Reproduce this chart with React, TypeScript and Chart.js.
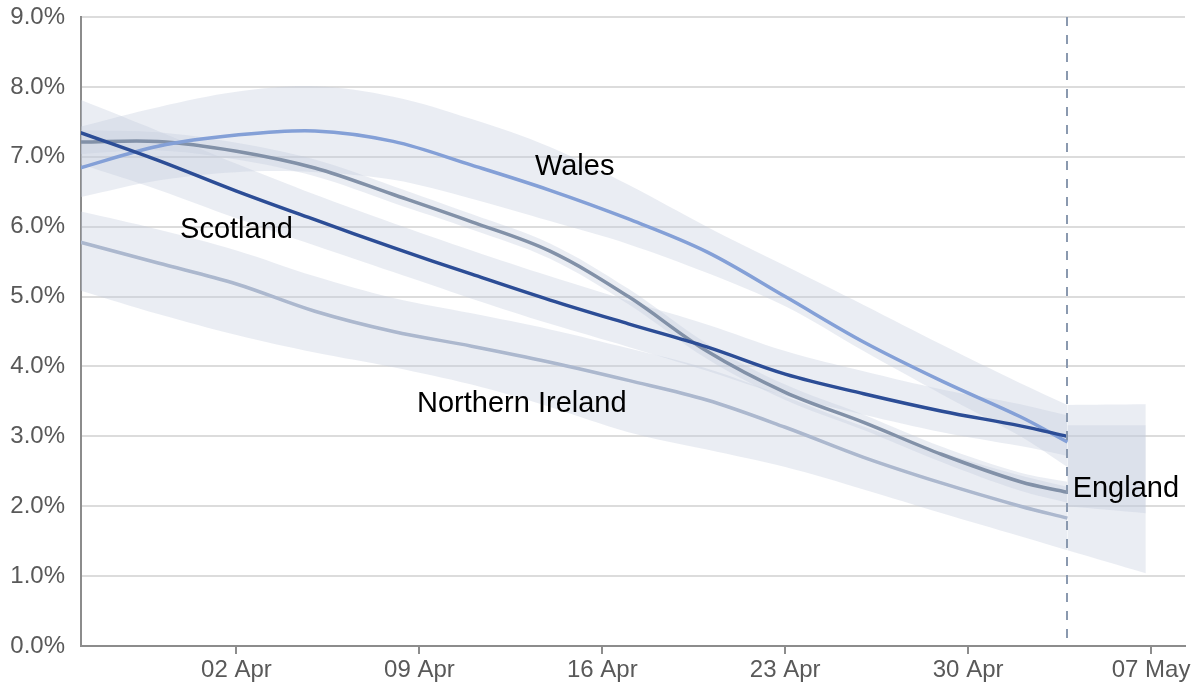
import React, { useEffect, useRef } from 'react';
import { Chart, registerables } from 'chart.js';

Chart.register(...registerables);

// Days relative to 02 Apr
const days = [-6, -3, 0, 3, 6, 9, 12, 15, 18, 21, 24, 27, 30, 31.8];

const scotland = [7.35, 6.95, 6.51, 6.1, 5.7, 5.32, 4.95, 4.61, 4.28, 3.89, 3.61, 3.36, 3.15, 3.0];
const scotlandUpper = [7.82, 7.37, 6.9, 6.46, 6.05, 5.66, 5.29, 4.94, 4.6, 4.22, 3.93, 3.67, 3.46, 3.3];
const scotlandLower = [6.9, 6.53, 6.12, 5.73, 5.35, 4.97, 4.61, 4.28, 3.94, 3.58, 3.31, 3.06, 2.86, 2.72];

const wales = [6.84, 7.15, 7.31, 7.37, 7.22, 6.88, 6.52, 6.11, 5.64, 5.0, 4.35, 3.79, 3.28, 2.92];
const walesUpper = [7.43, 7.71, 7.93, 8.01, 7.86, 7.54, 7.14, 6.6, 6.0, 5.44, 4.88, 4.31, 3.76, 3.45];
const walesLower = [6.42, 6.66, 6.78, 6.78, 6.67, 6.4, 6.08, 5.75, 5.34, 4.86, 4.22, 3.6, 3.0, 2.56];

const england = [7.21, 7.22, 7.08, 6.84, 6.46, 6.07, 5.65, 5.0, 4.22, 3.63, 3.2, 2.74, 2.35, 2.2];
const englandUpper = [7.38, 7.35, 7.2, 6.96, 6.58, 6.18, 5.76, 5.11, 4.33, 3.74, 3.31, 2.85, 2.48, 2.35];
const englandLower = [7.04, 7.09, 6.96, 6.72, 6.34, 5.96, 5.54, 4.89, 4.11, 3.52, 3.09, 2.63, 2.22, 2.05];

const nIreland = [5.78, 5.48, 5.18, 4.79, 4.5, 4.29, 4.06, 3.8, 3.52, 3.13, 2.7, 2.33, 2.0, 1.83];
const nIrelandUpper = [6.22, 5.96, 5.66, 5.29, 4.98, 4.76, 4.53, 4.26, 3.97, 3.57, 3.14, 2.77, 2.44, 2.28];
const nIrelandLower = [5.09, 4.75, 4.45, 4.2, 3.99, 3.74, 3.42, 3.06, 2.81, 2.56, 2.24, 1.9, 1.57, 1.37];

// Uncertainty beyond the latest estimate
const extDays = [31.8, 34.8];
const extAUpper = [3.45, 3.46];
const extALower = [2.0, 1.9];
const extBUpper = [3.16, 3.16];
const extBLower = [1.37, 1.04];

const xTickDays = [0, 7, 14, 21, 28, 35];
const xTickLabels = ['02 Apr', '09 Apr', '16 Apr', '23 Apr', '30 Apr', '07 May'];
const yTicks = [0, 1, 2, 3, 4, 5, 6, 7, 8, 9];
const latestDay = 31.8;

const seriesLabels = [
  { text: 'Wales', day: 11.42, value: 6.74 },
  { text: 'Scotland', day: -2.16, value: 5.84 },
  { text: 'Northern Ireland', day: 6.91, value: 3.35 },
  { text: 'England', day: 32.0, value: 2.13 },
];

const FONT = "'Liberation Sans', Arial, sans-serif";
const BAND = 'rgba(196,204,220,0.35)';
const TENSION = 0.35;

const pts = (xs: number[], ys: number[]) => xs.map((x, i) => ({ x, y: ys[i] }));

const bandPair = (xs: number[], up: number[], lo: number[]) => [
  {
    data: pts(xs, up),
    borderWidth: 0,
    pointRadius: 0,
    backgroundColor: BAND,
    fill: '+1',
    tension: TENSION,
    order: 5,
  },
  {
    data: pts(xs, lo),
    borderWidth: 0,
    pointRadius: 0,
    fill: false,
    tension: TENSION,
    order: 5,
  },
];

const lineDs = (ys: number[], color: string) => ({
  data: pts(days, ys),
  borderColor: color,
  borderWidth: 3.5,
  pointRadius: 0,
  fill: false,
  tension: TENSION,
  order: 0,
});

const annotPlugin = {
  id: 'annot',
  afterDatasetsDraw(chart: any) {
    const { ctx, chartArea, scales } = chart;
    const xs = scales.x;
    const ys = scales.y;
    ctx.save();
    const lx = Math.round(xs.getPixelForValue(latestDay));
    ctx.strokeStyle = 'rgb(138,153,175)';
    ctx.lineWidth = 2;
    ctx.setLineDash([9, 9]);
    ctx.beginPath();
    ctx.moveTo(lx, chartArea.top);
    ctx.lineTo(lx, chartArea.bottom);
    ctx.stroke();
    ctx.setLineDash([]);
    ctx.fillStyle = '#000';
    ctx.font = `29px ${FONT}`;
    ctx.textBaseline = 'alphabetic';
    ctx.textAlign = 'left';
    seriesLabels.forEach((l) => {
      ctx.fillText(l.text, xs.getPixelForValue(l.day), ys.getPixelForValue(l.value));
    });
    ctx.restore();
  },
};

export default function App() {
  const ref = useRef<HTMLCanvasElement>(null);
  useEffect(() => {
    const datasets: any[] = [
      lineDs(scotland, 'rgb(44,77,150)'),
      lineDs(wales, 'rgb(132,160,215)'),
      lineDs(england, 'rgb(130,145,168)'),
      lineDs(nIreland, 'rgb(172,184,206)'),
      ...bandPair(days, walesUpper, walesLower),
      ...bandPair(days, scotlandUpper, scotlandLower),
      ...bandPair(days, englandUpper, englandLower),
      ...bandPair(days, nIrelandUpper, nIrelandLower),
      ...bandPair(extDays, extAUpper, extALower),
      ...bandPair(extDays, extBUpper, extBLower),
    ];
    const chart = new Chart(ref.current!, {
      type: 'line',
      data: { datasets },
      options: {
        animation: false,
        responsive: false,
        devicePixelRatio: 1,
        layout: { padding: { left: 0, right: 10, top: 17, bottom: 0 } },
        plugins: {
          legend: { display: false },
          tooltip: { enabled: false },
          title: { display: false },
        },
        scales: {
          x: {
            type: 'linear',
            min: -5.95,
            max: 36.3,
            afterBuildTicks: (scale: any) => {
              scale.ticks = xTickDays.map((v) => ({ value: v }));
            },
            afterFit: (scale: any) => {
              scale.height = 40;
              scale.paddingLeft = 0;
              scale.paddingRight = 0;
            },
            ticks: {
              autoSkip: false,
              maxRotation: 0,
              padding: 2,
              color: '#595959',
              font: { family: FONT, size: 24 },
              callback: (v: any) => {
                const i = xTickDays.indexOf(Number(v));
                return i >= 0 ? xTickLabels[i] : '';
              },
            },
            grid: {
              drawOnChartArea: false,
              drawTicks: true,
              tickLength: 8,
              color: '#8c8c8c',
              lineWidth: 2,
            },
            border: { display: true, color: '#8c8c8c', width: 2 },
          },
          y: {
            min: 0,
            max: 9,
            afterBuildTicks: (scale: any) => {
              scale.ticks = yTicks.map((v) => ({ value: v }));
            },
            afterFit: (scale: any) => {
              scale.width = 81;
              scale.paddingTop = 0;
              scale.paddingBottom = 0;
            },
            ticks: {
              padding: 16,
              color: '#595959',
              font: { family: FONT, size: 24 },
              callback: (v: any) => Number(v).toFixed(1) + '%',
            },
            grid: {
              drawTicks: false,
              color: '#dcdcdc',
              lineWidth: 2,
            },
            border: { display: true, color: '#8c8c8c', width: 2 },
          },
        },
      },
      plugins: [annotPlugin],
    } as any);
    return () => chart.destroy();
  }, []);
  return (
    <div style={{ position: 'fixed', left: 0, top: 0, width: 1195, height: 686, background: '#fff' }}>
      <canvas ref={ref} width={1195} height={686} style={{ display: 'block' }} />
    </div>
  );
}
